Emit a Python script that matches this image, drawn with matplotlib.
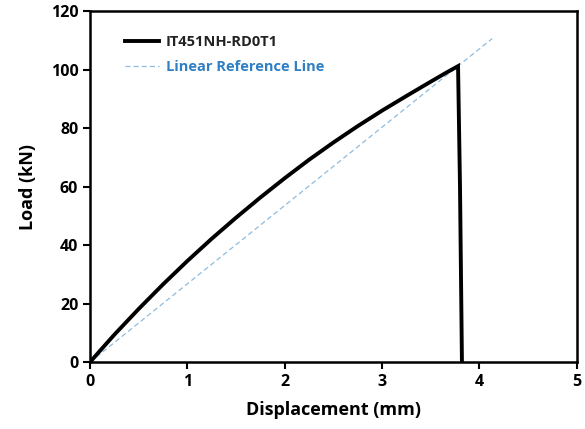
import matplotlib
matplotlib.use("Agg")
import matplotlib.pyplot as plt

# Data
disp = [0.0, 0.1, 0.25, 0.5, 0.75, 1.0, 1.25, 1.5, 1.75, 2.0, 2.25, 2.5,
        2.75, 3.0, 3.25, 3.5, 3.65, 3.78, 3.80, 3.82]
load = [0.0, 3.8, 9.4, 18.2, 26.6, 34.6, 42.2, 49.4, 56.3, 62.9, 69.2, 75.1,
        80.7, 86.0, 91.0, 95.9, 98.8, 101.2, 60.0, 0.0]
ref_x = [0.0, 4.13]
ref_y = [0.0, 110.6]

xticks = [0, 1, 2, 3, 4, 5]
yticks = [0, 20, 40, 60, 80, 100, 120]

plt.rcParams['font.family'] = ['Open Sans', 'DejaVu Sans']

fig = plt.figure(figsize=(5.85, 4.29), dpi=100)
ax = fig.add_axes([0.154, 0.156, 0.832, 0.818])

ax.plot(ref_x, ref_y, linestyle=(0, (4, 2.5)), color='#8DBCE0', linewidth=0.9,
        label='Linear Reference Line', zorder=2)
ax.plot(disp, load, color='black', linewidth=2.8, label='IT451NH-RD0T1',
        solid_joinstyle='miter', zorder=3)

ax.set_xlim(0, 5)
ax.set_ylim(0, 120)
ax.set_xticks(xticks)
ax.set_yticks(yticks)
for s in ax.spines.values():
    s.set_linewidth(1.8)
ax.tick_params(direction='out', length=5, width=1.5, labelsize=11.5)
for lab in ax.get_xticklabels() + ax.get_yticklabels():
    lab.set_fontweight('bold')
ax.set_xlabel('Displacement (mm)', fontsize=13, fontweight='bold', labelpad=8)
ax.set_ylabel('Load (kN)', fontsize=13, fontweight='bold', labelpad=10)

h, l = ax.get_legend_handles_labels()
leg = ax.legend([h[1], h[0]], [l[1], l[0]], loc='upper left',
                bbox_to_anchor=(0.045, 0.97), frameon=False,
                prop={'weight': 'bold', 'size': 10.5}, handlelength=2.3,
                handletextpad=0.5, labelspacing=0.75)
texts = leg.get_texts()
texts[0].set_color('#222222')
texts[1].set_color('#2E7FC4')

fig.savefig('out.png', dpi=100)
